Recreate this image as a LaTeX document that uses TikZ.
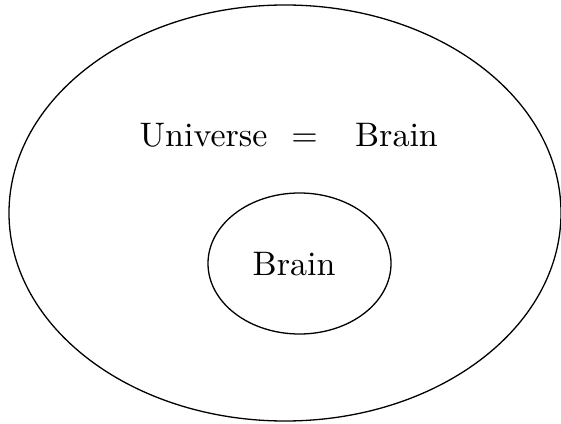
\documentclass[tikz,border=0pt]{standalone}
\usetikzlibrary{shapes.geometric}
\begin{document}
\begin{tikzpicture}[x=1pt,y=1pt,
  ring/.style={draw=black, line width=1.3pt, ellipse, inner sep=0pt, fill=none},
  lbl/.style={inner sep=0pt, font=\normalsize, scale=3.4, anchor=base west}]
\useasboundingbox (0,0) rectangle (561,423);
\node[ring, minimum width=552pt, minimum height=416pt] (outer) at (285,210) {};
\node[ring, minimum width=183pt, minimum height=141pt] (inner) at (299.5,159.5) {};
\node[lbl] (eq) at (139,276) {Universe\hspace{7pt}=\hspace{11pt}Brain};
\node[lbl] (brain) at (252,148) {Brain};
\end{tikzpicture}
\end{document}
